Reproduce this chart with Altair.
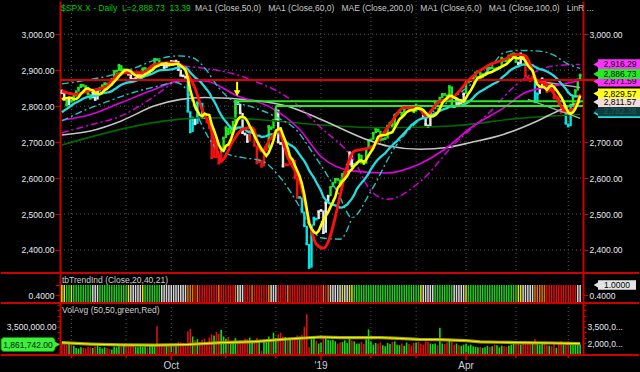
import altair as alt
import pandas as pd

FONT = "Liberation Sans"
RED = "#cc0000"
GRID = "#555555"
LABEL = "#e6e8f0"

# ---------------- data ----------------
# closes before the visible window (only used to warm up the moving averages)
pre_close = [2716.31, 2718.37, 2726.71, 2713.22, 2736.61, 2759.82, 2784.17, 2793.84, 2774.02, 2798.29,
             2801.31, 2798.43, 2809.55, 2815.62, 2804.49, 2801.83, 2806.98, 2820.40, 2846.07]

close_jul = [2837.44, 2818.82, 2802.60, 2816.29]
close_aug = [2813.36, 2827.22, 2840.35, 2850.40, 2858.45, 2857.70, 2853.58, 2833.28, 2821.93, 2839.96,
             2818.37, 2840.69, 2850.13, 2857.05, 2862.96, 2861.82, 2856.98, 2874.69, 2896.74, 2897.52,
             2914.04, 2901.13, 2901.52]
close_sep = [2896.72, 2888.60, 2878.05, 2871.68, 2877.13, 2887.89, 2888.92, 2904.18, 2904.98, 2888.80,
             2904.31, 2907.95, 2930.75, 2929.67, 2919.37, 2915.56, 2905.97, 2914.00, 2913.98]
close_oct = [2924.59, 2923.43, 2925.51, 2901.61, 2885.57, 2884.43, 2880.34, 2785.68, 2728.37, 2767.13,
             2750.79, 2809.92, 2809.21, 2768.78, 2767.78, 2755.88, 2740.69, 2656.10, 2705.57, 2658.69,
             2641.25, 2682.63, 2711.74]
close_nov = [2740.37, 2723.06, 2738.31, 2755.45, 2813.89, 2806.83, 2781.01, 2726.22, 2722.18, 2701.58,
             2730.20, 2736.27, 2690.73, 2641.89, 2649.93, 2632.56, 2673.45, 2682.17, 2743.79, 2737.80,
             2760.17]
close_dec = [2790.37, 2700.06, 2695.95, 2633.08, 2637.72, 2636.78, 2651.07, 2650.54, 2599.95, 2545.94,
             2546.16, 2506.96, 2467.42, 2416.62, 2351.10, 2467.70, 2488.83, 2485.74, 2506.85]
close_jan = [2510.03, 2447.89, 2531.94, 2549.69, 2574.41, 2584.96, 2596.64, 2596.26, 2582.61, 2610.30,
             2616.10, 2635.96, 2670.71, 2632.90, 2638.70, 2642.33, 2664.76, 2643.85, 2640.00, 2681.05,
             2704.10]
close_feb = [2706.53, 2724.87, 2737.70, 2731.61, 2706.05, 2707.88, 2709.80, 2744.73, 2753.03, 2745.73,
             2775.60, 2779.76, 2784.70, 2774.88, 2792.67, 2796.11, 2793.90, 2792.38, 2784.49]
close_mar = [2803.69, 2792.81, 2789.65, 2771.45, 2748.93, 2743.07, 2783.30, 2791.52, 2810.92, 2808.48,
             2822.48, 2832.94, 2832.57, 2824.23, 2854.88, 2800.71, 2798.36, 2818.46, 2805.37, 2815.44,
             2834.40]
close_apr = [2867.19, 2867.24, 2873.40, 2879.39, 2892.74, 2895.77, 2878.20, 2888.21, 2888.32, 2907.41,
             2905.58, 2907.06, 2900.45, 2905.03, 2907.97, 2933.68, 2927.25, 2926.17, 2939.88, 2943.03,
             2945.83]
close_may = [2923.73, 2917.52, 2945.64, 2932.47, 2884.05, 2879.42, 2870.72, 2881.40, 2811.87, 2834.41,
             2850.96, 2876.32, 2859.53, 2840.23, 2864.36, 2856.27, 2822.24, 2826.06, 2802.39, 2783.02,
             2788.86, 2752.06]
close_jun = [2744.45, 2803.27, 2826.15, 2843.49, 2873.34, 2886.73]

# volume in millions
vol_jul = [1.95, 1.90, 1.85, 1.95]
vol_aug = [1.85, 1.75, 1.55, 1.50, 1.60, 1.55, 1.50, 1.65, 1.60, 1.55, 1.70, 1.75, 1.60, 1.50, 1.60, 1.55,
           1.45, 1.40, 1.65, 1.60, 1.70, 1.65, 1.75]
vol_sep = [1.70, 1.80, 1.85, 1.75, 1.65, 1.60, 1.70, 1.65, 1.70, 1.60, 1.75, 1.80, 1.90, 3.55, 1.80, 1.75,
           1.85, 1.80, 1.90]
vol_oct = [1.85, 1.90, 1.95, 2.10, 2.05, 2.00, 1.95, 3.05, 3.30, 2.60, 2.25, 2.35, 2.10, 2.30, 2.40, 2.10,
           2.50, 2.80, 2.70, 3.00, 2.85, 3.20, 2.60]
vol_nov = [2.40, 2.55, 2.10, 2.15, 2.45, 2.15, 2.20, 2.20, 2.40, 2.35, 2.50, 2.25, 2.10, 2.45, 2.10, 1.30,
           2.10, 2.20, 2.60, 2.25, 2.95]
vol_dec = [2.45, 2.80, 2.95, 2.60, 2.55, 2.40, 2.35, 2.25, 2.50, 2.70, 2.60, 2.75, 3.50, 4.65, 1.60, 2.60,
           2.45, 2.20, 1.95]
vol_jan = [2.05, 2.45, 2.60, 2.30, 2.25, 2.30, 2.15, 1.95, 2.05, 2.10, 2.25, 2.00, 2.45, 2.20, 2.15, 1.95,
           1.95, 2.10, 1.90, 2.35, 3.25]
vol_feb = [2.15, 1.85, 2.00, 1.95, 2.05, 1.80, 1.70, 2.00, 1.90, 2.10, 2.15, 1.85, 1.80, 1.95, 1.75, 2.05,
           1.90, 1.75, 2.00]
vol_mar = [2.05, 2.10, 1.95, 1.85, 2.15, 2.10, 1.95, 1.90, 1.95, 1.80, 3.40, 1.95, 1.90, 2.05, 2.20, 2.10,
           1.85, 1.95, 1.80, 1.75, 1.85]
vol_apr = [1.90, 1.75, 1.85, 1.70, 1.65, 1.60, 1.65, 1.55, 1.60, 1.75, 1.65, 1.70, 1.85, 1.80, 1.60, 1.75,
           1.70, 1.65, 1.75, 1.85, 2.00]
vol_may = [2.05, 1.95, 1.85, 2.00, 2.20, 1.95, 2.15, 2.10, 2.35, 2.00, 1.85, 1.90, 2.00, 1.80, 1.75, 1.70,
           2.00, 1.55, 2.00, 2.15, 1.85, 2.10]
vol_jun = [2.15, 2.05, 1.95, 1.85, 1.90, 1.861742]

# trend-indicator colour per day, as runs (code, number of days)
trend_runs = [("Y", 2), ("G", 2), ("Y", 1), ("G", 8), ("W", 3), ("G", 12), ("Y", 1), ("W", 5), ("Y", 1),
              ("G", 7), ("W", 11), ("O", 3), ("R", 1), ("O", 1), ("R", 8), ("O", 1), ("R", 6), ("O", 1),
              ("W", 3), ("R", 3), ("O", 1), ("R", 6), ("O", 1), ("W", 3), ("R", 4), ("O", 1), ("R", 14),
              ("O", 1), ("R", 1), ("O", 1), ("W", 5), ("Y", 1), ("W", 2), ("Y", 2), ("G", 28), ("Y", 1),
              ("W", 5), ("G", 8), ("W", 5), ("Y", 1), ("G", 21), ("Y", 2), ("W", 5), ("O", 5), ("R", 13),
              ("W", 2)]
# candle colour per day, as runs
candle_runs = [("W", 2), ("G", 1), ("W", 1), ("G", 1), ("G", 8), ("W", 3), ("G", 12), ("W", 6), ("G", 8),
               ("W", 11), ("C", 3), ("W", 1), ("C", 1), ("W", 1), ("C", 1), ("W", 1), ("R", 7), ("G", 6),
               ("W", 5), ("R", 8), ("G", 3), ("W", 4), ("R", 6), ("C", 8), ("W", 5), ("G", 7), ("W", 3),
               ("G", 28), ("W", 5), ("R", 1), ("G", 8), ("W", 5), ("G", 22), ("W", 3), ("R", 4), ("C", 2),
               ("W", 2), ("R", 9), ("C", 3), ("G", 4)]

# indicator lines (day index, value)
red_idx = [0, 6, 11, 18, 25, 34, 39, 45, 50, 53, 56, 59, 62, 65, 67, 72, 76, 80, 84, 88, 91, 95, 100, 104,
           107, 110, 123, 130, 137, 144, 150, 153, 158, 165, 172, 179, 186, 191, 195, 200, 204, 208, 212,
           215, 218]
red_val = [2842, 2833, 2842, 2852, 2893, 2893, 2916, 2921, 2916, 2889, 2850, 2790, 2750, 2685, 2648, 2703,
           2736, 2740, 2675, 2712, 2731, 2657, 2592, 2481, 2416, 2405, 2675, 2685, 2740, 2796, 2796, 2773,
           2810, 2828, 2879, 2912, 2930, 2944, 2940, 2870, 2861, 2824, 2787, 2791, 2833]
ma50_idx = [0, 12, 25, 39, 50, 60, 74, 88, 100, 109, 122, 136, 150, 162, 172, 186, 195, 207, 218]
ma50_val = [2761, 2777, 2810, 2847, 2870, 2870, 2828, 2796, 2735, 2660, 2620, 2614, 2638, 2685, 2740, 2796,
            2838, 2856, 2871.59]
magA_idx = [0, 12, 25, 36, 48]
magA_val = [2726, 2748, 2773, 2815, 2873]
magB_idx = [51, 60, 67, 81, 95, 109, 123, 130, 137, 151, 165, 179, 193, 207, 218]
magB_val = [2912, 2905, 2898, 2870, 2824, 2740, 2648, 2564, 2541, 2592, 2694, 2777, 2870, 2912, 2916.29]
cyanA_idx = [0, 10, 20, 30, 40, 49, 55, 60, 66, 72, 80, 90, 99, 105, 110, 116, 122, 130, 140, 150, 160,
             170, 180, 186, 193, 199, 206, 213, 218]
cyanA_val = [2862, 2872, 2885, 2905, 2930, 2940, 2935, 2907, 2851, 2814, 2798, 2770, 2731, 2675, 2625, 2560,
             2490, 2564, 2685, 2759, 2800, 2850, 2905, 2949, 2955, 2954, 2945, 2917, 2905]
cyanB_idx = [0, 10, 20, 30, 40, 48, 53, 58, 64, 70, 76, 84, 92, 100, 105, 109, 117, 122]
cyanB_val = [2759, 2790, 2815, 2838, 2855, 2866, 2840, 2760, 2690, 2666, 2657, 2648, 2600, 2520, 2460, 2434,
             2430, 2490]
ma100_idx = [0, 12, 25, 39, 50, 60, 81, 95, 109, 130, 137, 151, 162, 172, 186, 200, 210, 218]
ma100_val = [2720, 2731, 2759, 2801, 2819, 2824, 2816, 2800, 2763, 2703, 2689, 2680, 2685, 2699, 2722, 2759,
             2791, 2811.57]
ma200_idx = [0, 50, 60, 80, 110, 136, 164, 192, 218]
ma200_val = [2692, 2764, 2768, 2764, 2747, 2740, 2745, 2766, 2777]
linr_up_idx = [200, 218]
linr_up_val = [2870, 2852]
linr_dn_idx = [196, 218]
linr_dn_val = [2819, 2766]
vavg_idx = [0, 12, 25, 39, 53, 67, 81, 95, 109, 117, 134, 142, 150, 159, 170, 176, 184, 192, 206, 218]
vavg_val = [2.03, 1.90, 1.82, 1.80, 1.86, 2.03, 2.12, 2.37, 2.55, 2.49, 2.50, 2.42, 2.33, 2.31, 2.22, 2.10,
            2.07, 2.04, 2.00, 1.94]

red_level = [2873.0]
green_start = [73, 90]
green_level = [2813.9, 2800.2]
green_low = [2777, 2763]
arrow_idx = [73.7]
arrow_top = [2868]
arrow_tip = [2836]

price_ticks = [2400, 2500, 2600, 2700, 2800, 2900, 3000]
vol_ticks = [2000000, 2500000, 3000000, 3500000, 4000000, 4500000, 5000000, 5500000]
month_idx = [4, 27, 46, 69, 90, 109, 130, 149, 170, 191, 213]
month_lbl = ["", "", "Oct", "", "", "'19", "", "", "Apr", "", ""]

box_vals = [2871.59, 2916.29, 2886.73, 2781.0, 2786.0, 2811.57, 2829.57]
box_text = ["2,871.59", "2,916.29", "2,886.73", "", "2,782.38", "2,811.57", "2,829.57"]
box_fill = ["#ff33ff", "#ff33ff", "#22ee22", "#22dddd", "#0c3c3c", "#f4dcdc", "#ffff22"]
box_ink = ["#000000", "#000000", "#000000", "#000000", "#245a5a", "#000000", "#000000"]
box_shift = [1, 0, -1, 0, 0, 0, -2]

legend_main = "$SPX.X - Daily\u00a0\u00a0L=2,888.73\u00a0\u00a013.39"
legend_rest = ("MA1 (Close,50,0)\u00a0\u00a0\u00a0MA1 (Close,60,0)\u00a0\u00a0\u00a0MAE (Close,200,0)"
               "\u00a0\u00a0\u00a0MA1 (Close,6,0)\u00a0\u00a0\u00a0MA1 (Close,100,0)\u00a0\u00a0\u00a0LinR ...")

# ---------------- tables ----------------
closes = (close_jul + close_aug + close_sep + close_oct + close_nov + close_dec + close_jan + close_feb
          + close_mar + close_apr + close_may + close_jun)
volumes = (vol_jul + vol_aug + vol_sep + vol_oct + vol_nov + vol_dec + vol_jan + vol_feb + vol_mar
           + vol_apr + vol_may + vol_jun)
trend_code = [c for c, k in trend_runs for _ in range(k)]
candle_code = [c for c, k in candle_runs for _ in range(k)]
n_pre, n = len(pre_close), len(closes)

df = pd.DataFrame({
    "idx": list(range(-n_pre, n)),
    "close": pre_close + closes,
    "cc": [None] * n_pre + candle_code,
    "tc": [None] * n_pre + trend_code,
    "vol": [None] * n_pre + volumes,
})
months = pd.DataFrame({"m": month_idx, "lbl": month_lbl})

W, HP, HT, HV = 523, 272, 30, 52
x_scale = alt.Scale(domain=[-0.8, 219.2], nice=False, zero=False)
py_scale = alt.Scale(domain=[2335.9, 3092.6], nice=False, zero=False)
ty_scale = alt.Scale(domain=[-0.03, 1.686], nice=False, zero=False)
vy_scale = alt.Scale(domain=[896000, 5680000], nice=False, zero=False)

X = alt.X("idx:Q", scale=x_scale, axis=None)
XM = alt.X("m:Q", scale=x_scale, axis=None)


def axis(**kw):
    d = dict(domainColor=RED, domainWidth=2, tickColor=RED, tickWidth=1, tickSize=5, labelColor=LABEL,
             labelFont=FONT, labelFontSize=8.5, labelPadding=1, title=None, grid=False)
    d.update(kw)
    return alt.Axis(**d)


sort_idx = [alt.SortField("idx", order="ascending")]
base = (
    alt.Chart(df)
    .transform_window(window=[alt.WindowFieldDef(op="lag", field="close", param=1, **{"as": "prev"})],
                      sort=sort_idx)
    .transform_window(window=[alt.WindowFieldDef(op="mean", field="close", **{"as": "ma6"})],
                      frame=[-5, 0], sort=sort_idx)
    .transform_window(window=[alt.WindowFieldDef(op="mean", field="close", **{"as": "ma20"})],
                      frame=[-19, 0], sort=sort_idx)
    .transform_calculate(
        updown="datum.close >= datum.prev ? 'up' : 'down'",
        vol_abs="datum.vol * 1000000",
        s_top="1",
        s_bot="0",
    )
    .transform_filter("datum.idx >= 0")
)


def read_line(idx, vals, color, width, dash=None, scale=py_scale):
    d = pd.DataFrame({"idx": idx, "v": vals})
    props = dict(color=color, strokeWidth=width, interpolate="monotone")
    if dash is not None:
        props["strokeDash"] = dash
    return alt.Chart(d).mark_line(**props).encode(x=X, y=alt.Y("v:Q", scale=scale, axis=None))


def text_layer(txt, x, y, color, size=8.5, align="left"):
    return alt.Chart(pd.DataFrame({"t": [txt]})).mark_text(
        align=align, baseline="middle", font=FONT, fontSize=size, color=color
    ).encode(x=alt.value(x), y=alt.value(y), text="t:N")


def sep_line(y):
    return alt.Chart(pd.DataFrame({"a": [0]})).mark_rule(color=RED, strokeWidth=2).encode(
        x=alt.value(-59), x2=alt.value(W + 56), y=alt.value(y))


def vgrid(h):
    return alt.Chart(months).mark_rule(color=GRID, strokeWidth=1, strokeDash=[1, 3]).encode(
        x=XM, y=alt.value(0), y2=alt.value(h))


# ---------------- price panel ----------------
left_price = axis(orient="left", values=price_ticks, format=",.2f")
right_price = axis(orient="right", values=[2400, 2500, 2600, 2700, 3000], format=",.2f")

hgrid = alt.Chart(pd.DataFrame({"v": price_ticks})).mark_rule(
    color=GRID, strokeWidth=1, strokeDash=[1, 3]).encode(
    y=alt.Y("v:Q", scale=py_scale, axis=left_price), x=alt.value(0), x2=alt.value(W))

candle_scale = alt.Scale(domain=["G", "W", "R", "C"], range=["#1ee81e", "#e8e8e8", "#ee1111", "#00e5e5"])
candles = base.mark_rule(strokeWidth=2.4).encode(
    x=X,
    y=alt.Y("prev:Q", scale=py_scale, axis=None),
    y2="close:Q",
    color=alt.Color("cc:N", scale=candle_scale, legend=None),
)
candle_dots = base.mark_square(size=7, opacity=1).encode(
    x=X, y=alt.Y("close:Q", scale=py_scale, axis=None),
    color=alt.Color("cc:N", scale=candle_scale, legend=None),
)

ma20 = base.mark_line(color="#22dddd", strokeWidth=2.3).encode(x=X, y=alt.Y("ma20:Q", scale=py_scale, axis=None))
ma6 = base.mark_line(color="#ffff00", strokeWidth=2.6).encode(x=X, y=alt.Y("ma6:Q", scale=py_scale, axis=None))

red_hl = alt.Chart(pd.DataFrame({"v": red_level})).mark_rule(color="#dd0000", strokeWidth=2).encode(
    y=alt.Y("v:Q", scale=py_scale, axis=right_price), x=alt.value(0), x2=alt.value(W + 15))

gdf = pd.DataFrame({"start": green_start, "v": green_level, "lo": green_low})
green_h = alt.Chart(gdf).mark_rule(color="#22ee22", strokeWidth=2).encode(
    x=alt.X("start:Q", scale=x_scale, axis=None), x2=alt.value(W), y=alt.Y("v:Q", scale=py_scale, axis=None))
green_v = alt.Chart(gdf).mark_rule(color="#22ee22", strokeWidth=2).encode(
    x=alt.X("start:Q", scale=x_scale, axis=None), y=alt.Y("lo:Q", scale=py_scale, axis=None), y2="v:Q")

adf = pd.DataFrame({"idx": arrow_idx, "top": arrow_top, "tip": arrow_tip})
arrow_shaft = alt.Chart(adf).mark_rule(color="#ffff00", strokeWidth=2).encode(
    x=X, y=alt.Y("top:Q", scale=py_scale, axis=None), y2="tip:Q")
arrow_head = alt.Chart(adf).mark_point(shape="triangle-down", filled=True, size=45, color="#ffff00",
                                       opacity=1).encode(x=X, y=alt.Y("tip:Q", scale=py_scale, axis=None))

box_layers = []
for v, t, f, ink, sh in zip(box_vals, box_text, box_fill, box_ink, box_shift):
    bd = pd.DataFrame({"val": [v], "lbl": [t]})
    bc = alt.Chart(bd).transform_calculate(top="datum.val + 14", bot="datum.val - 14")
    box_layers.append(bc.mark_rect(color=f, yOffset=sh, y2Offset=sh).encode(
        x=alt.value(538), x2=alt.value(580), y=alt.Y("top:Q", scale=py_scale, axis=None), y2="bot:Q"))
    box_layers.append(bc.mark_point(shape="triangle-left", filled=True, size=40, color=f, opacity=1,
                                    yOffset=sh).encode(
        x=alt.value(536), y=alt.Y("val:Q", scale=py_scale, axis=None)))
    if t:
        box_layers.append(bc.mark_text(font=FONT, fontSize=8.5, color=ink, align="center",
                                       baseline="middle", yOffset=sh).encode(
            x=alt.value(560), y=alt.Y("val:Q", scale=py_scale, axis=None), text="lbl:N"))

price = alt.layer(
    hgrid, vgrid(HP),
    candles, candle_dots,
    read_line(ma200_idx, ma200_val, "#006a00", 1.6),
    read_line(ma100_idx, ma100_val, "#c4c4c4", 1.6),
    read_line(linr_up_idx, linr_up_val, "#a8a8a8", 1.5),
    read_line(linr_dn_idx, linr_dn_val, "#a8a8a8", 1.5),
    read_line(ma50_idx, ma50_val, "#e000e0", 1.6),
    read_line(magA_idx, magA_val, "#d000d0", 1.5, dash=[7, 3, 2, 3]),
    read_line(magB_idx, magB_val, "#d000d0", 1.5, dash=[7, 3, 2, 3]),
    read_line(cyanA_idx, cyanA_val, "#1fc4c4", 1.4, dash=[7, 3, 2, 3]),
    read_line(cyanB_idx, cyanB_val, "#1fc4c4", 1.4, dash=[7, 3, 2, 3]),
    ma20,
    green_h, green_v, red_hl,
    read_line(red_idx, red_val, "#ff1010", 2.8),
    ma6,
    arrow_shaft, arrow_head,
    text_layer(legend_main, 1, 7, "#00cc00"),
    text_layer(legend_rest, 135, 7, "#c8c8c8"),
    *box_layers,
).resolve_axis(y="independent").properties(width=W, height=HP)

# ---------------- trend panel ----------------
trend_scale = alt.Scale(domain=["G", "Y", "W", "O", "R"],
                        range=["#22cc22", "#e6e600", "#d8d8d8", "#e07800", "#dd1010"])
strip = base.mark_rule(strokeWidth=1.5).encode(
    x=X,
    y=alt.Y("s_top:Q", scale=ty_scale,
            axis=axis(orient="left", values=[0.4, 1.0], format=".4f",
                      labelExpr="datum.value == 0.4 ? format(datum.value, '.4f') : ''")),
    y2="s_bot:Q",
    color=alt.Color("tc:N", scale=trend_scale, legend=None),
)
one_df = pd.DataFrame({"val": [1.0], "lbl": ["1.0000"]})
one_base = alt.Chart(one_df).transform_calculate(top="datum.val + 0.27", bot="datum.val - 0.27")
one_box = one_base.mark_rect(color="#e4e4e4").encode(
    x=alt.value(538), x2=alt.value(576),
    y=alt.Y("top:Q", scale=ty_scale, axis=axis(orient="right", values=[0.4], format=".4f")),
    y2="bot:Q")
one_tri = one_base.mark_point(shape="triangle-left", filled=True, size=30, color="#e4e4e4", opacity=1).encode(
    x=alt.value(536), y=alt.Y("val:Q", scale=ty_scale, axis=None))
one_txt = one_base.mark_text(font=FONT, fontSize=8.5, color="#000000").encode(
    x=alt.value(557), y=alt.Y("val:Q", scale=ty_scale, axis=None), text="lbl:N")
trend = alt.layer(
    strip, one_box, one_tri, one_txt,
    text_layer("tbTrendInd (Close,20,40,21)", 2, 7, "#d0d0d0"),
    sep_line(0),
).resolve_axis(y="independent").properties(width=W, height=HT)

# ---------------- volume panel ----------------
vbars = base.mark_rule(strokeWidth=1.6).encode(
    x=X,
    y=alt.Y("vol_abs:Q", scale=vy_scale,
            axis=axis(orient="left", values=vol_ticks, tickSize=3,
                      labelExpr="datum.value == 3500000 ? format(datum.value, ',.2f') : ''")),
    y2=alt.value(HV),
    color=alt.Color("updown:N", scale=alt.Scale(domain=["up", "down"], range=["#11dd11", "#dd1111"]),
                    legend=None),
)
vavg_df = pd.DataFrame({"idx": vavg_idx, "m": vavg_val})
vavg_base = alt.Chart(vavg_df).transform_calculate(v="datum.m * 1000000")
vavg_outer = vavg_base.mark_line(color="#a3a300", strokeWidth=3.2).encode(
    x=X, y=alt.Y("v:Q", scale=vy_scale,
                 axis=axis(orient="right", values=vol_ticks, tickSize=3,
                           labelExpr="(datum.value == 3500000 || datum.value == 2000000) ? "
                                     "substring(format(datum.value, ',.2f'), 0, 7) + '...' : ''")))
vavg_inner = vavg_base.mark_line(color="#f4f428", strokeWidth=1).encode(
    x=X, y=alt.Y("v:Q", scale=vy_scale, axis=None))

last_vol = pd.DataFrame({"val": [volumes[-1] * 1000000], "lbl": ["1,861,742.00"]})
lv_base = alt.Chart(last_vol).transform_calculate(top="datum.val + 640000", bot="datum.val - 640000")
lv_box = lv_base.mark_rect(color="#3cf03c", stroke="#0a8a0a", strokeWidth=1, cornerRadius=3).encode(
    x=alt.value(-59), x2=alt.value(-5), y=alt.Y("top:Q", scale=vy_scale, axis=None), y2="bot:Q")
lv_tri = lv_base.mark_point(shape="triangle-right", filled=True, size=45, color="#3cf03c", opacity=1).encode(
    x=alt.value(-3), y=alt.Y("val:Q", scale=vy_scale, axis=None))
lv_txt = lv_base.mark_text(font=FONT, fontSize=8.5, color="#002200", align="center").encode(
    x=alt.value(-32), y=alt.Y("val:Q", scale=vy_scale, axis=None), text="lbl:N")

# month ticks and labels under the bottom line
tick_short = alt.Chart(months).transform_filter("datum.lbl == ''").mark_rule(
    color=RED, strokeWidth=1.5).encode(x=XM, y=alt.value(HV - 2), y2=alt.value(HV + 3))
tick_long = alt.Chart(months).transform_filter("datum.lbl != ''").mark_rule(
    color=RED, strokeWidth=1.5).encode(x=XM, y=alt.value(HV - 3), y2=alt.value(HV + 5))
month_text = alt.Chart(months).transform_filter("datum.lbl != ''").mark_text(
    font=FONT, fontSize=10, color="#cdd3dc", align="center", baseline="middle").encode(
    x=XM, y=alt.value(HV + 11), text="lbl:N")

volume = alt.layer(
    vgrid(HV),
    vbars, vavg_outer, vavg_inner, lv_box, lv_tri, lv_txt,
    text_layer("VolAvg (50,50,green,Red)", 2, 7, "#d0d0d0"),
    sep_line(0), sep_line(HV),
    tick_short, tick_long, month_text,
).resolve_axis(y="independent").properties(width=W, height=HV)

chart = (
    alt.vconcat(price, trend, volume, spacing=0, bounds="flush")
    .resolve_scale(color="independent")
    .properties(
        padding={"left": 0, "right": 0, "top": 0, "bottom": 18},
        autosize=alt.AutoSizeParams(type="pad"),
        background="#000000",
    )
    .configure_view(stroke=None)
)

chart.save("out.html", embed_options={"renderer": "svg", "actions": False})
